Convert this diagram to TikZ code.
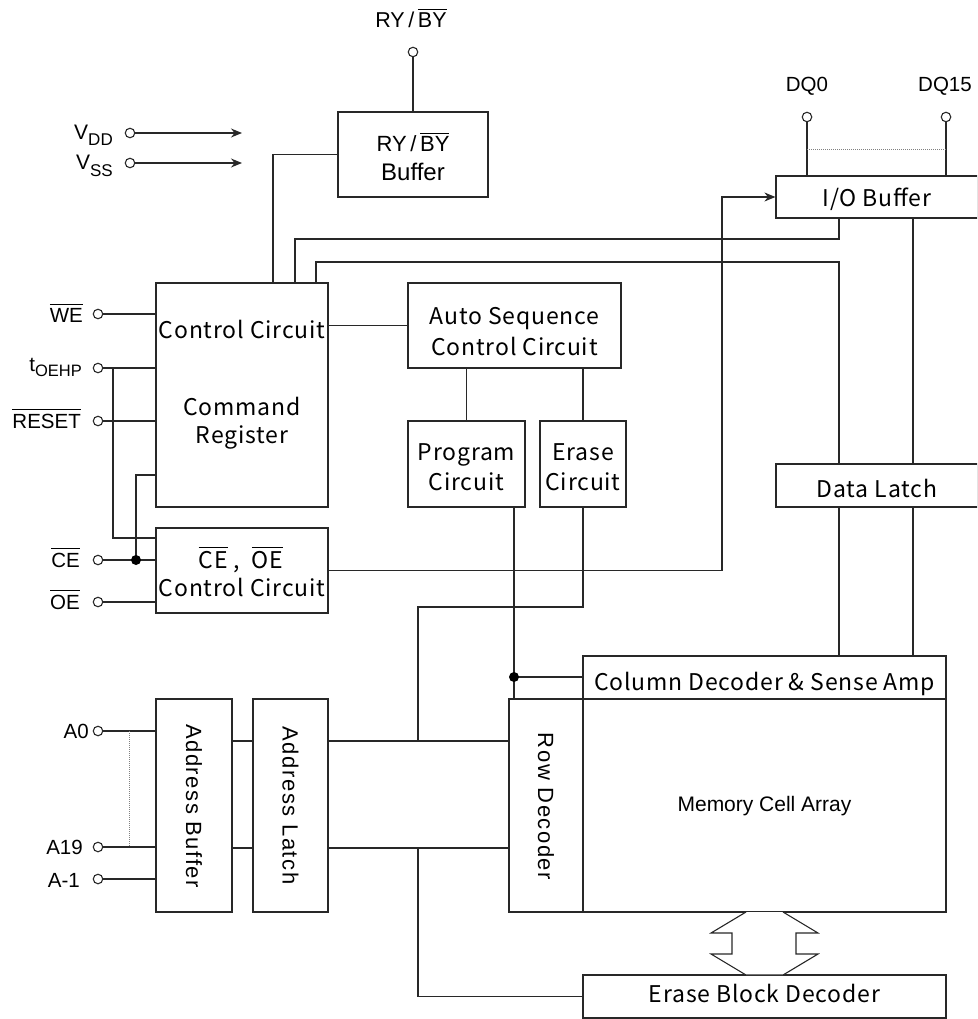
\documentclass[tikz,border=0pt]{standalone}
\usepackage{fontspec}
\setmainfont{Liberation Sans}
\newfontfamily\jpfam[LetterSpace=3.5]{Noto Sans CJK JP}
\newfontfamily\lsfam[LetterSpace=7]{Liberation Sans}
\usetikzlibrary{arrows.meta}
\definecolor{ink}{RGB}{40,40,40}
\newcommand\ovl[1]{\vbox{\hrule height 1pt\kern 3.2pt\hbox{#1}}}
\newcommand\jpf{\jpfam\fontsize{23}{30}\selectfont}
\newcommand\labf{\fontsize{20.5}{25}\selectfont}
\newcommand\boxf{\fontsize{22}{26}\selectfont}
\newcommand\mcaf{\fontsize{21}{25}\selectfont}
\newcommand\rotf{\lsfam\fontsize{22}{26}\selectfont}
\newcommand\subs[1]{\raisebox{-6pt}{\fontsize{17}{18}\selectfont #1}}
\newcommand\subt[1]{\raisebox{-5pt}{\fontsize{16.5}{18}\selectfont #1}}
\begin{document}
\begin{tikzpicture}[x=1pt,y=-1pt,
 blk/.style={draw=ink,line width=1.2pt,inner sep=0pt,align=center,font=\jpf,text depth=0pt},
 txt/.style={inner sep=0pt,font=\jpf,anchor=base},
 wire/.style={draw=ink,line width=1.2pt},
 lbl/.style={inner sep=0pt,font=\labf,text=black},
 pin/.style={circle,draw=ink,fill=white,line width=1.1pt,minimum size=9.5pt,inner sep=0pt},
 jdot/.style={circle,fill=black,minimum size=10pt,inner sep=0pt},
 tip/.style={-{Stealth[length=11pt,width=9pt]}},
 dots/.style={draw=gray,line width=0.9pt,dash pattern=on 1pt off 1pt}
]
\useasboundingbox (0,0) rectangle (977,1019);
\clip (0,0) rectangle (977,1019);

% ---------- boxes ----------
\node[blk,minimum width=150,minimum height=85] (ryb) at (413,154.5) {};
\node[lbl,font=\boxf,anchor=base] (rybt1) at (413,152) {RY\,/\,\ovl{BY}};
\node[lbl,font=\fontsize{24}{28}\selectfont,anchor=base] (rybt2) at (413,181) {Buffer};
\node[blk,text height=20pt,minimum width=202,minimum height=42] (iob) at (877,197) {I/O Buffer};
\node[blk,minimum width=172,minimum height=224] (ccr) at (242,395) {};
\node[txt] (cct) at (242,338) {Control Circuit};
\node[txt] (cmd1) at (242,415) {Command};
\node[txt] (cmd2) at (242,443) {Register};
\node[blk,minimum width=172,minimum height=85] (ceoe) at (242,570.5) {};
\node[txt] (ceoe1) at (241,568) {\ovl{CE} ,\ \ \ovl{OE}};
\node[txt] (ceoe2) at (242,596) {Control Circuit};
\node[blk,minimum width=213,minimum height=85] (asc) at (514.5,325.5) {};
\node[txt] (asc1) at (514.5,324) {Auto Sequence};
\node[txt] (asc2) at (514.5,355) {Control Circuit};
\node[blk,minimum width=117,minimum height=86] (prog) at (466.5,464) {};
\node[txt] (prog1) at (466.5,460) {Program};
\node[txt] (prog2) at (466.5,490) {Circuit};
\node[blk,minimum width=86,minimum height=86] (erase) at (583,464) {};
\node[txt] (er1) at (583,460) {Erase};
\node[txt] (er2) at (583,490) {Circuit};
\node[blk,text height=23pt,minimum width=202,minimum height=43] (dl) at (877,485.5) {Data Latch};
\node[blk,text height=25pt,minimum width=363,minimum height=43] (cold) at (764.5,677.5) {Column Decoder \& Sense Amp};
\node[blk,font=\mcaf,text height=11pt,minimum width=363,minimum height=213] (mca) at (764.5,805.5) {Memory Cell Array};
\node[blk,minimum width=74,minimum height=213] (rowd) at (546,805.5) {};
\node[blk,minimum width=76,minimum height=213] (abuf) at (194,805.5) {};
\node[blk,minimum width=75,minimum height=213] (alat) at (290.5,805.5) {};
\node[blk,text height=11pt,minimum width=363,minimum height=43] (ebd) at (764.5,996.5) {Erase Block Decoder};
\node[rotate=-90,font=\rotf,inner sep=0pt] (rowtxt) at (546,806.5) {Row Decoder};
\node[rotate=-90,font=\rotf,inner sep=0pt] (abtxt) at (194,806) {Address Buffer};
\node[rotate=-90,font=\rotf,inner sep=0pt] (altxt) at (290.5,805.5) {Address Latch};

% ---------- pins and labels ----------
\node[pin] (pry) at (413,52) {};
\node[lbl,font=\fontsize{21.5}{25}\selectfont,anchor=base] (lry) at (411,28) {RY\,/\,\ovl{BY}};
\node[pin] (pdq0) at (807,117) {};
\node[lbl,anchor=base] (ldq0) at (807,92) {DQ0};
\node[pin] (pdq15) at (946,117) {};
\node[lbl,anchor=base] (ldq15) at (945,92) {DQ15};
\node[pin] (pvdd) at (130,133) {};
\node[lbl,font=\fontsize{21}{25}\selectfont,anchor=base east] (lvdd) at (113,140) {V\subs{DD}};
\node[pin] (pvss) at (130,163) {};
\node[lbl,font=\fontsize{21}{25}\selectfont,anchor=base east] (lvss) at (113,170) {V\subs{SS}};
\node[pin] (pwe) at (98,314) {};
\node[lbl,anchor=base east] (lwe) at (83,322) {\ovl{WE}};
\node[pin] (pt) at (98,368) {};
\node[lbl,anchor=base east] (lt) at (82,371) {t\subt{OEHP}};
\node[pin] (pr) at (98,421) {};
\node[lbl,anchor=base east] (lr) at (81,428) {\ovl{RESET}};
\node[pin] (pce) at (98,560) {};
\node[lbl,anchor=base east] (lce) at (80,567) {\ovl{CE}};
\node[pin] (poe) at (98,602) {};
\node[lbl,anchor=base east] (loe) at (80,609) {\ovl{OE}};
\node[pin] (pa0) at (98,731) {};
\node[lbl,anchor=base east] (la0) at (89,738) {A0};
\node[pin] (pa19) at (98,847) {};
\node[lbl,anchor=base east] (la19) at (83,854) {A19};
\node[pin] (pam1) at (98,879) {};
\node[lbl,anchor=base east] (lam1) at (80,887) {A-1};

% ---------- coordinates ----------
\coordinate (vddend) at (242,133);
\coordinate (vssend) at (242,163);
\coordinate (b1) at (295,239);
\coordinate (b2) at (839,262);
\coordinate (q1) at (807,149);
\coordinate (q2) at (946,149);
\coordinate (j1) at (514,677);
\coordinate (e1) at (418,607);
\coordinate (ab1) at (418,741);
\coordinate (ab2) at (418,848);
\coordinate (c1) at (722,197);
\coordinate (t1) at (113,368);
\coordinate (t2) at (113,538);
\coordinate (k1) at (136,475);
\coordinate (k2) at (136,560);
\coordinate (d1) at (129,731);
\coordinate (d2) at (129,847);

% ---------- wires ----------
\draw[wire] (pry) -- (ryb.north);
\draw[wire,tip] (pvdd) -- (vddend);
\draw[wire,tip] (pvss) -- (vssend);
\draw[wire] (ryb.west) -| ([xshift=31pt]ccr.north);
\draw[wire] ([xshift=-38pt]iob.south) |- (b1) -- (b1 |- ccr.north);
\draw[wire] ([xshift=74pt]ccr.north) |- (b2) -- (b2 |- dl.north);
\draw[wire] ([xshift=36pt]iob.south) -- ([xshift=36pt]dl.north);
\draw[wire] ([xshift=-38pt]dl.south) -- ([xshift=74.5pt]cold.north);
\draw[wire] ([xshift=36pt]dl.south) -- ([xshift=148.5pt]cold.north);
\draw[wire] (pdq0) -- (pdq0 |- iob.north);
\draw[wire] (pdq15) -- (pdq15 |- iob.north);
\draw[dots] (q1) -- (q2);
\draw[wire] (asc.west) -- (asc.west -| ccr.east);
\draw[wire] ([xshift=-48pt]asc.south) -- (prog.north);
\draw[wire] ([xshift=68.5pt]asc.south) -- (erase.north);
\draw[wire] ([xshift=47.5pt]prog.south) -- (j1) -- (j1 |- rowd.north);
\draw[wire] (j1) -- (j1 -| cold.west);
\node[jdot] (jd1) at (j1) {};
\draw[wire] (erase.south) |- (e1) -- (ab1);
\draw[wire,tip] (ceoe.east) -| (c1) -- (iob.west);
\draw[wire] (pwe) -- (pwe -| ccr.west);
\draw[wire] (pt) -- (pt -| ccr.west);
\draw[wire] (t1) -- (t2) -- (t2 -| ceoe.west);
\draw[wire] (pr) -- (pr -| ccr.west);
\draw[wire] (k1 -| ccr.west) -- (k1) -- (k2);
\draw[wire] (pce) -- (pce -| ceoe.west);
\node[jdot] (jd2) at (k2) {};
\draw[wire] (poe) -- (poe -| ceoe.west);
\draw[wire] (pa0) -- (pa0 -| abuf.west);
\draw[wire] (pa19) -- (pa19 -| abuf.west);
\draw[wire] (pam1) -- (pam1 -| abuf.west);
\draw[dots] (d1) -- (d2);
\draw[wire] (abuf.east |- ab1) -- (alat.west |- ab1);
\draw[wire] (abuf.east |- ab2) -- (alat.west |- ab2);
\draw[wire] (alat.east |- ab1) -- (rowd.west |- ab1);
\draw[wire] (alat.east |- ab2) -- (rowd.west |- ab2);
\draw[wire] (ab2) |- (ebd.west);

% ---------- double arrow ----------
\draw[wire,line width=1.1pt,fill=white] (746,912) -- (711,933) -- (732,933) -- (732,954) -- (711,954) -- (746,975) -- (783,975) -- (818,954) -- (796,954) -- (796,933) -- (818,933) -- (783,912);
\end{tikzpicture}
\end{document}
